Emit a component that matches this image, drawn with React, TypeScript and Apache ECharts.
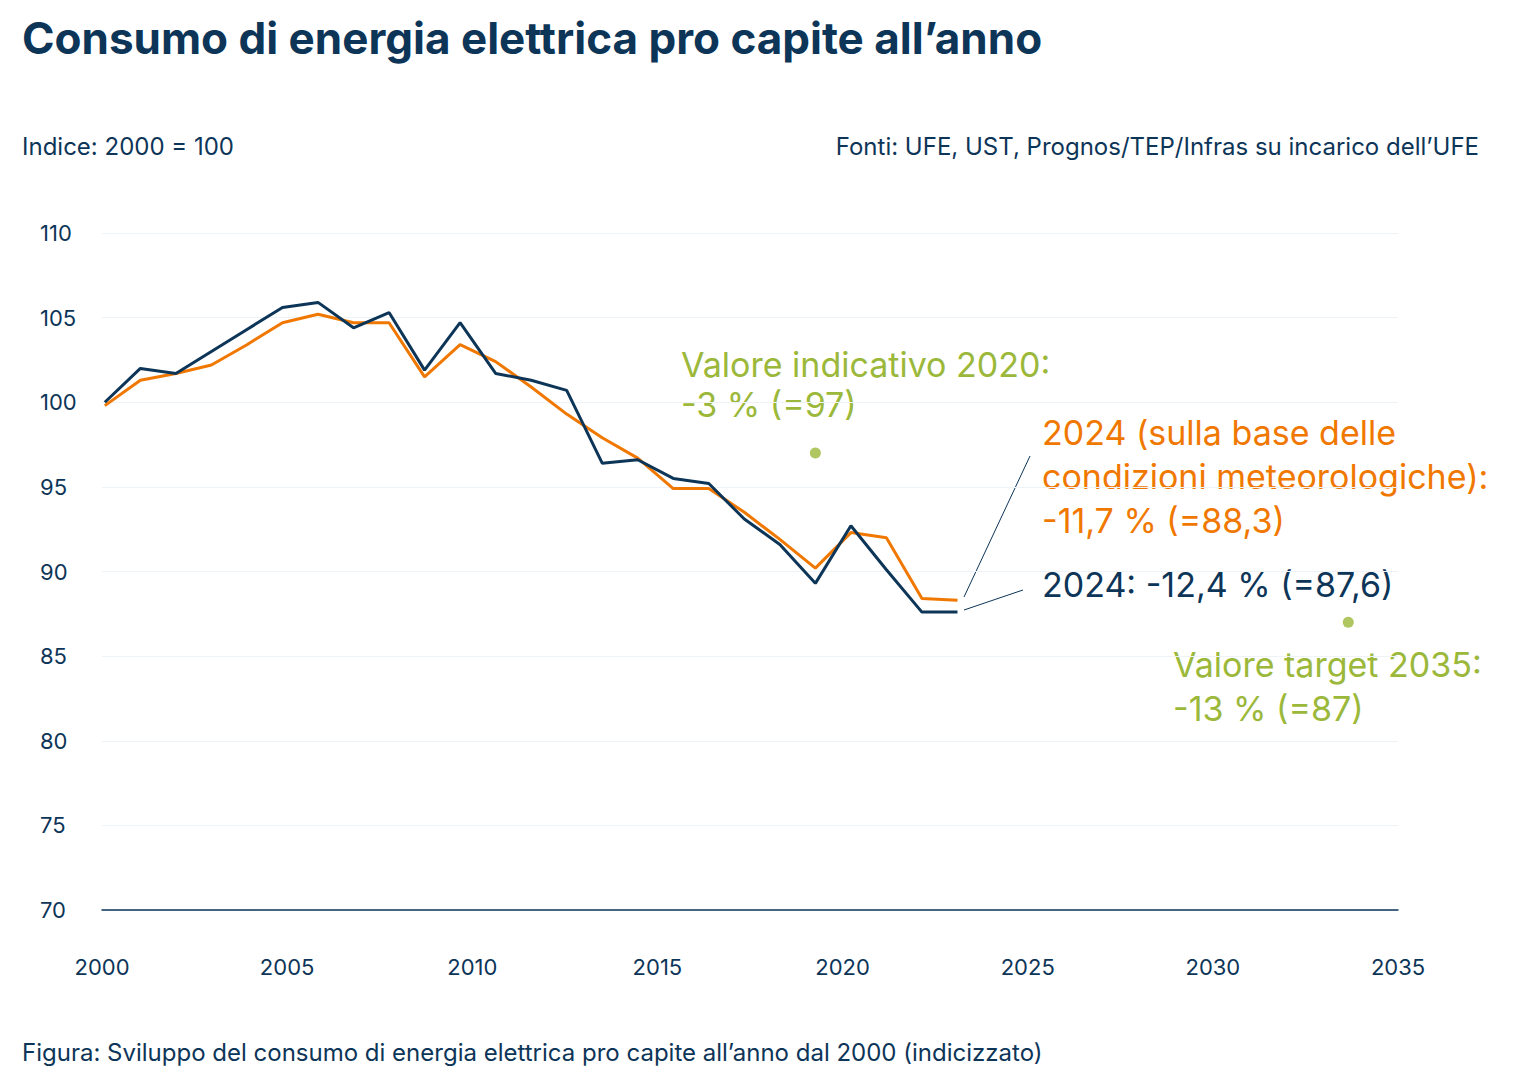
import * as echarts from "echarts";
import React, { useEffect, useRef } from "react";

const years = [2000, 2001, 2002, 2003, 2004, 2005, 2006, 2007, 2008, 2009, 2010, 2011, 2012, 2013, 2014, 2015, 2016, 2017, 2018, 2019, 2020, 2021, 2022, 2023, 2024];
const effettivo = [100, 102.0, 101.7, 103.0, 104.3, 105.6, 105.9, 104.4, 105.3, 101.9, 104.7, 101.7, 101.3, 100.7, 96.4, 96.6, 95.5, 95.2, 93.1, 91.6, 89.3, 92.7, 90.1, 87.6, 87.6];
const meteo = [99.8, 101.3, 101.7, 102.2, 103.4, 104.7, 105.2, 104.7, 104.7, 101.5, 103.4, 102.4, 100.9, 99.3, 97.9, 96.7, 94.9, 94.9, 93.5, 91.9, 90.2, 92.3, 92.0, 88.4, 88.3];
const obiettivi: [number, number][] = [[2020, 97], [2035, 87]];

const NAVY = "#0d3558";
const ORANGE = "#f07800";
const GREEN = "#9bb83a";
const FONT = "Inter, 'Noto Sans', sans-serif";

const App: React.FC = () => {
  const chartRef = useRef<HTMLDivElement>(null);

  useEffect(() => {
    document.body.style.margin = "0";
    if (!chartRef.current) return;
    const chart = echarts.init(chartRef.current, undefined, { renderer: "svg" });

    chart.setOption({
      animation: false,
      textStyle: { fontFamily: FONT },
      grid: { left: 102, right: 137, top: 233, bottom: 176 },
      xAxis: [
        {
          type: "value", min: 1999.92, max: 2036.4, show: false,
        },
        {
          type: "value", min: 2000, max: 2035, interval: 5, position: "bottom",
          axisLine: { show: true, lineStyle: { color: NAVY, width: 1.5 } },
          axisTick: { show: false },
          splitLine: { show: false },
          axisLabel: { color: NAVY, fontSize: 22, margin: 46, fontFamily: FONT, formatter: (v: number) => String(v) },
        },
      ],
      yAxis: {
        type: "value", min: 70, max: 110, interval: 5,
        axisLine: { show: false }, axisTick: { show: false },
        splitLine: { lineStyle: { color: "#eef3f8", width: 1 } },
        axisLabel: { color: NAVY, fontSize: 22, align: "left", margin: 62, fontFamily: FONT },
      },
      series: [
        {
          type: "line", xAxisIndex: 0, symbol: "none",
          data: years.map((y, i) => [y, meteo[i]]),
          lineStyle: { color: ORANGE, width: 3 },
        },
        {
          type: "line", xAxisIndex: 0, symbol: "none",
          data: years.map((y, i) => [y, effettivo[i]]),
          lineStyle: { color: NAVY, width: 3 },
        },
        {
          type: "scatter", xAxisIndex: 0, symbolSize: 11,
          data: obiettivi, itemStyle: { color: GREEN },
        },
      ],
      graphic: [
        { type: "text", left: 22, top: 16, style: { text: "Consumo di energia elettrica pro capite all’anno", fill: NAVY, font: `bold 44px ${FONT}` } },
        { type: "text", left: 22, top: 134, style: { text: "Indice: 2000 = 100", fill: NAVY, font: `24px ${FONT}` } },
        { type: "text", right: 56, top: 134, style: { text: "Fonti: UFE, UST, Prognos/TEP/Infras su incarico dell’UFE", fill: NAVY, font: `24px ${FONT}` } },
        { type: "text", left: 22, top: 1040, style: { text: "Figura: Sviluppo del consumo di energia elettrica pro capite all’anno dal 2000 (indicizzato)", fill: NAVY, font: `24px ${FONT}` } },
        { type: "text", left: 681, top: 344, style: { text: "Valore indicativo 2020:\n-3 % (=97)", fill: GREEN, font: `34px ${FONT}`, lineHeight: 40 } },
        { type: "text", left: 1042, top: 410, style: { text: "2024 (sulla base delle\ncondizioni meteorologiche):\n-11,7 % (=88,3)", fill: ORANGE, font: `34px ${FONT}`, lineHeight: 44 } },
        { type: "text", left: 1042, top: 567, style: { text: "2024: -12,4 % (=87,6)", fill: NAVY, font: `34px ${FONT}` } },
        { type: "text", left: 1173, top: 642, style: { text: "Valore target 2035:\n-13 % (=87)", fill: GREEN, font: `34px ${FONT}`, lineHeight: 44 } },
        { type: "line", shape: { x1: 964, y1: 597, x2: 1030, y2: 456 }, style: { stroke: NAVY, lineWidth: 1 } },
        { type: "line", shape: { x1: 964, y1: 610, x2: 1023, y2: 590 }, style: { stroke: NAVY, lineWidth: 1 } },
      ],
    });

    return () => chart.dispose();
  }, []);

  return <div ref={chartRef} style={{ width: 1535, height: 1086, background: "#fff" }} />;
};

export default App;
